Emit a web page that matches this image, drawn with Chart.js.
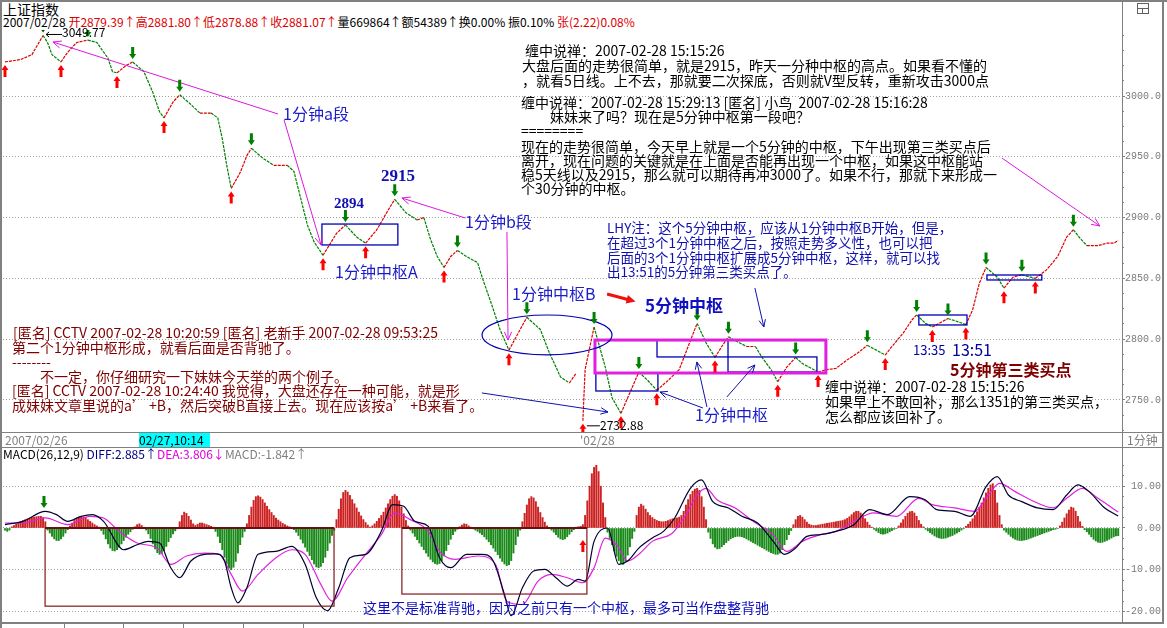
<!DOCTYPE html>
<html><head><meta charset="utf-8">
<script src="https://cdn.jsdelivr.net/npm/chart.js@4/dist/chart.umd.min.js"></script>
<style>
html,body{margin:0;padding:0;background:#fff;}
#wrap{position:relative;width:1167px;height:628px;overflow:hidden;background:#fff;font-family:'Noto Sans CJK SC',sans-serif;color:#000;}
.t{position:absolute;white-space:pre;}
.ln{position:absolute;background:#808080;}
canvas{position:absolute;}
</style></head><body><div id="wrap">
<canvas id="price" width="1161" height="402" style="left:0;top:30px"></canvas>
<canvas id="macd" width="1161" height="161" style="left:0;top:461px"></canvas>

<div class="ln" style="left:0;top:0;width:1167px;height:2px"></div>
<div class="ln" style="left:0;top:0;width:2px;height:628px"></div>
<div class="ln" style="left:1122px;top:0;width:1px;height:623px"></div>
<div class="ln" style="left:1162px;top:0;width:2px;height:624px"></div>
<div class="ln" style="left:0;top:432px;width:1164px;height:1px"></div>
<div class="ln" style="left:0;top:447px;width:1164px;height:1px"></div>
<div class="ln" style="left:0;top:622px;width:1164px;height:2px"></div>
<div class="ln" style="left:64px;top:624px;width:1px;height:4px"></div>
<div class="ln" style="left:123px;top:624px;width:1px;height:4px"></div>
<div class="ln" style="left:183px;top:624px;width:1px;height:4px"></div>
<div class="ln" style="left:243px;top:624px;width:1px;height:4px"></div>
<div class="ln" style="left:303px;top:624px;width:1px;height:4px"></div>
<div style="position:absolute;left:1137px;top:3px;width:10px;height:9px;border:1px solid #606060;"><div style="position:absolute;left:0;top:4px;width:10px;height:1px;background:#606060"></div><div style="position:absolute;left:4px;top:4px;width:1px;height:5px;background:#606060"></div></div>

<div class="t" style="left:3px;top:1px;font-size:14px;line-height:16px">上证指数</div>
<div class="t" style="left:3px;top:15px;font-size:12px;line-height:14px">2007/02/28 <span style="color:#e00000">开2879.39↑高2881.80↑低2878.88↑收2881.07↑</span>量669864↑额54389↑换0.00% 振0.10% <span style="color:#e00000">张(2.22)0.08%</span></div>

<div class="t" style="left:525px;top:43px;font-size:14px;line-height:14px">缠中说禅：2007-02-28 15:15:26</div>
<div class="t" style="left:522px;top:58px;font-size:14px;line-height:14px">大盘后面的走势很简单，就是2915，昨天一分种中枢的高点。如果看不懂的</div>
<div class="t" style="left:522px;top:73px;font-size:14px;line-height:14px">，就看5日线。上不去，那就要二次探底，否则就V型反转，重新攻击3000点</div>
<div class="t" style="left:521px;top:95px;font-size:14px;line-height:14px">缠中说禅：2007-02-28 15:29:13 [匿名] 小鸟  2007-02-28 15:16:28</div>
<div class="t" style="left:550px;top:109px;font-size:14px;line-height:14px">妹妹来了吗？现在是5分钟中枢第一段吧？</div>
<div class="t" style="left:521px;top:123px;font-size:14px;line-height:14px">========</div>
<div class="t" style="left:521px;top:139px;font-size:14px;line-height:14px">现在的走势很简单，今天早上就是一个5分钟的中枢，下午出现第三类买点后</div>
<div class="t" style="left:521px;top:153px;font-size:14px;line-height:14px">离开，现在问题的关键就是在上面是否能再出现一个中枢，如果这中枢能站</div>
<div class="t" style="left:521px;top:167px;font-size:14px;line-height:14px">稳5天线以及2915，那么就可以期待再冲3000了。如果不行，那就下来形成一</div>
<div class="t" style="left:521px;top:181px;font-size:14px;line-height:14px">个30分钟的中枢。</div>

<div class="t" style="left:13px;top:325px;font-size:14px;line-height:14px;color:#800000">[匿名] CCTV 2007-02-28 10:20:59 [匿名] 老新手 2007-02-28 09:53:25</div>
<div class="t" style="left:12px;top:340px;font-size:14px;line-height:14px;color:#800000">第二个1分钟中枢形成，就看后面是否背驰了。</div>
<div class="t" style="left:12px;top:354px;font-size:14px;line-height:14px;color:#800000">--------</div>
<div class="t" style="left:40px;top:369px;font-size:14px;line-height:14px;color:#800000">不一定，你仔细研究一下妹妹今天举的两个例子。</div>
<div class="t" style="left:12px;top:383px;font-size:14px;line-height:14px;color:#800000">[匿名] CCTV 2007-02-28 10:24:40 我觉得，大盘还存在一种可能，就是形</div>
<div class="t" style="left:12px;top:398px;font-size:14px;line-height:14px;color:#800000">成妹妹文章里说的a’ +B，然后突破B直接上去。现在应该按a’ +B来看了。</div>

<div class="t" style="left:607px;top:220px;font-size:13.5px;line-height:14px;color:#1010b0">LHY注：这个5分钟中枢，应该从1分钟中枢B开始，但是，</div>
<div class="t" style="left:607px;top:235px;font-size:13.5px;line-height:14px;color:#1010b0">在超过3个1分钟中枢之后，按照走势多义性，也可以把</div>
<div class="t" style="left:607px;top:250px;font-size:13.5px;line-height:14px;color:#1010b0">后面的3个1分钟中枢扩展成5分钟中枢，这样，就可以找</div>
<div class="t" style="left:607px;top:264px;font-size:13.5px;line-height:14px;color:#1010b0">出13:51的5分钟第三类买点了。</div>

<div class="t" style="left:825px;top:379px;font-size:14px;line-height:14px">缠中说禅：2007-02-28 15:15:26</div>
<div class="t" style="left:825px;top:394px;font-size:14px;line-height:14px">如果早上不敢回补，那么1351的第三类买点，</div>
<div class="t" style="left:825px;top:409px;font-size:14px;line-height:14px">怎么都应该回补了。</div>

<div class="t" style="left:283px;top:104px;font-size:16px;line-height:18px;color:#1c1cc8">1分钟a段</div>
<div class="t" style="left:334px;top:194px;font-size:15px;line-height:18px;color:#1010b0;font-weight:bold;font-family:'Liberation Serif',serif">2894</div>
<div class="t" style="left:381px;top:166px;font-size:17px;line-height:20px;color:#1010b0;font-weight:bold;font-family:'Liberation Serif',serif">2915</div>
<div class="t" style="left:335px;top:262px;font-size:16px;line-height:18px;color:#1c1cc8">1分钟中枢A</div>
<div class="t" style="left:465px;top:212px;font-size:16px;line-height:18px;color:#1c1cc8">1分钟b段</div>
<div class="t" style="left:512px;top:284px;font-size:16px;line-height:18px;color:#1c1cc8">1分钟中枢B</div>
<div class="t" style="left:645px;top:295px;font-size:17px;line-height:20px;color:#1010c0;font-weight:bold">5分钟中枢</div>
<div class="t" style="left:695px;top:405px;font-size:16px;line-height:18px;color:#1c1cc8">1分钟中枢</div>
<div class="t" style="left:913px;top:342px;font-size:13px;line-height:16px;color:#0000a0">13:35</div>
<div class="t" style="left:952px;top:340px;font-size:16px;line-height:18px;color:#0000a0">13:51</div>
<div class="t" style="left:950px;top:360px;font-size:16px;line-height:18px;color:#800000;font-weight:bold">5分钟第三类买点</div>
<div class="t" style="left:600px;top:418px;font-size:12px;line-height:14px">2732.88</div>
<div class="t" style="left:62px;top:25px;font-size:12px;line-height:14px">3049.77</div>

<div class="t" style="left:5px;top:433px;font-size:12px;line-height:14px;color:#808080">2007/02/26</div>
<div class="t" style="left:139px;top:433px;width:71px;height:14px;background:#00ffff;font-size:12px;line-height:14px">02/27,10:14</div>
<div class="t" style="left:580px;top:433px;font-size:12px;line-height:14px;color:#808080">'02/28</div>
<div class="t" style="left:1127px;top:433px;font-size:12px;line-height:14px;color:#808080">1分钟</div>

<div class="t" style="left:3px;top:447px;font-size:12px;line-height:14px">MACD(26,12,9) <span style="color:#000080">DIFF:2.885↑</span><span style="color:#e000e0">DEA:3.806↓</span><span style="color:#808080">MACD:-1.842↑</span></div>
<div class="t" style="left:363px;top:598px;font-size:14px;line-height:18px;color:#1010c0">这里不是标准背驰，因为之前只有一个中枢，最多可当作盘整背驰</div>
</div>
<script>
// ---------------- data (x = minute index of the 1-minute chart) ----------------
const priceMinutes = [0,7,12,17,19,21,25,28,32,37,41,46,48,50,54,57,62,66,69,71,75,78,83,87,92,95,97,99,101,105,108,110,115,120,126,129,132,135,138,142,148,152,157,161,166,171,174,179,184,187,190,193,196,199,202,206,211,213,217,221,225,230,233,239,243,248,252,255,257,258,259,263,268,271,275,279,283,287,291,296,301,305,309,313,317,320,323,327,331,335,338,342,345,349,353,356,361,363,367,371,376,381,385,389,393,396,401,405,407,411,414,417,421,426,429,432,435,438,443,446,450,454,458,460,465,470,474,477,480,483,488,492,495,497];
const priceValues = [3028,3030,3034,3049.77,3044,3034,3028,3036,3044,3046,3044,3031,3020,3019,3025,3028,3020,3003,2987,2982,2995,3001,2993,2986,2986,2982,2965,2943,2924,2937,2951,2957,2949,2943,2943,2938,2916,2894,2880,2869,2887,2894,2884,2879,2890,2906,2915,2904,2898,2900,2882,2868,2859,2868,2873,2868,2863,2851,2830,2808,2791,2808,2818,2808,2789,2769,2764,2772,null,2732.88,2775,2810,2777,2752,2739,2756,2773,2766,2758,2766,2775,2794,2813,2797,2785,2794,2802,2798,2794,2794,2785,2775,2765,2777,2785,2780,2775,2773,2775,2776,2783,2789,2795,2791,2787,2794,2805,2816,2820,2813,2810,2813,2817,2814,2812,2824,2846,2859,2851,2842,2851,2853,2851,2850,2857,2868,2884,2890,2883,2877,2877,2879,2879,2881.07];
const peakMinutes = [17,37,57,78,110,152,174,202,233,263,283,309,323,353,385,407,421,438,454,477];
const lowMinutes = [0,25,50,71,101,142,161,196,225,258,275,291,317,345,363,393,414,429,446,460];
const priceTickLabels = [2750,2800,2850,2900,2950,3000];

const diffMinutes = [0,8,18,23,28,34,39,44,53,59,64,69,74,78,83,89,94,98,101,104,108,113,121,128,134,139,144,149,154,161,168,173,178,183,189,194,199,206,213,218,223,226,231,236,241,246,251,256,259,263,269,274,278,283,289,294,299,306,311,316,323,329,336,343,348,353,358,364,371,379,386,394,404,411,416,424,431,438,443,448,454,461,468,474,479,484,491,497];
const diffValues = [0.8,1.6,4.0,3.2,1.6,2.8,3.2,1.6,-5.2,-4.0,-3.2,-3.6,-9.5,-11.9,-7.9,-6.3,-6.2,-7.9,-14.3,-17.9,-14.3,-6.3,-5.6,-4.4,-8.7,-16.7,-19.8,-14.3,-7.1,-6.3,-0.8,5.6,5.2,1.6,0.4,-7.1,-9.5,-6.3,-6.3,-7.9,-15.9,-21.0,-14.3,-10.3,-9.9,-11.9,-13.9,-12.3,-12.7,-3.2,0.0,-8.7,-7.9,-4.8,-2.4,-0.8,2.4,9.5,11.5,6.3,4.8,2.8,1.2,-3.2,-6.3,-4.8,-2.0,-1.6,-0.8,0.8,4.4,3.2,7.5,6.7,4.4,4.0,2.8,9.9,12.3,7.9,6.3,4.8,4.4,7.9,10.3,8.7,4.8,2.885];
const deaMinutes = [0,8,18,28,38,44,51,59,68,74,81,89,96,101,106,113,121,128,134,141,146,153,161,168,174,181,189,194,201,211,219,224,231,238,244,251,258,263,268,273,278,283,289,298,304,309,313,318,326,334,343,349,356,364,371,379,388,398,408,414,424,433,439,444,451,458,468,474,481,488,497];
const deaValues = [1.2,1.2,2.4,0.8,2.8,2.4,-0.8,-3.6,-4.8,-8.7,-6.7,-6.0,-6.3,-11.1,-15.1,-11.1,-7.1,-5.2,-6.3,-13.5,-17.5,-11.9,-6.3,-1.6,3.6,2.0,-0.8,-5.6,-7.5,-6.7,-8.7,-17.5,-18.3,-12.7,-11.1,-11.9,-13.1,-9.5,-2.4,-4.0,-7.9,-6.3,-3.2,-1.2,3.2,7.9,9.5,6.7,4.8,1.6,-1.6,-5.6,-3.2,-1.6,-0.8,1.6,3.6,2.8,7.1,5.6,4.8,4.0,7.9,10.7,8.7,6.7,4.8,7.1,9.5,7.1,3.806];
const histStarts = [0,3,19,29,43,58,63,78,94,108,129,148,181,203,209,231,244,255,269,282,314,352,388,399,411,429,446,471,482];
const histValues = [
 [-0.5,-0.8,-0.5],
 [0.3,0.6,0.9,1.2,1.5,1.8,2.0,2.2,2.4,2.5,2.6,2.7,2.8,2.8,2.5,1.5],
 [-0.5,-1.2,-2.0,-2.6,-3.0,-3.0,-2.6,-2.0,-1.2,-0.4],
 [0.5,1.2,1.8,2.3,2.6,2.7,2.6,2.4,2.0,1.6,1.2,0.8,0.5,0.2],
 [-0.6,-1.5,-2.6,-3.8,-4.8,-5.4,-5.5,-5.2,-4.6,-3.8,-3.0,-2.2,-1.5,-0.9,-0.3],
 [0.3,0.8,1.0,0.6,0.2],
 [-0.5,-1.4,-2.5,-3.8,-5.0,-5.9,-6.3,-6.1,-5.4,-4.4,-3.3,-2.3,-1.4,-0.7,-0.2],
 [1.5,3.0,3.8,3.5,2.8,1.9,1.0,0.6,0.9,1.2,1.2,1.0,0.8,0.6,0.4,0.2],
 [-0.8,-2.0,-3.5,-5.2,-7.0,-8.6,-9.6,-10.0,-9.4,-8.0,-6.0,-4.0,-2.2,-0.8],
 [1.0,3.0,5.0,6.6,7.5,7.7,7.4,6.8,6.0,5.2,4.4,3.7,3.0,2.4,1.9,1.5,1.1,0.8,0.5,0.3,0.1],
 [-0.4,-1.0,-1.8,-2.7,-3.6,-4.6,-5.6,-6.6,-7.6,-8.6,-9.3,-9.5,-9.2,-8.3,-7.0,-5.4,-3.6,-1.8,-0.5],
 [2.0,4.5,7.0,8.5,9.0,8.6,7.8,6.8,5.8,4.8,3.8,2.9,2.0,1.3,0.7,0.2,0.5,1.0,1.6,2.3,3.0,3.8,4.8,5.8,6.8,7.6,8.0,7.6,6.5,5.0,3.4,1.8,0.5],
 [-0.5,-1.2,-2.0,-2.8,-3.6,-4.4,-5.2,-6.0,-6.8,-7.5,-8.1,-8.5,-8.7,-8.5,-7.8,-6.7,-5.4,-4.0,-2.7,-1.6,-0.8,-0.3],
 [0.3,0.7,1.0,0.9,0.5,0.2],
 [-0.2,-0.5,-0.8,-1.2,-1.6,-2.1,-2.7,-3.3,-4.0,-4.8,-5.6,-6.4,-7.2,-8.0,-8.6,-9.0,-8.8,-7.8,-6.0,-4.0,-2.0,-0.5],
 [1.5,3.5,5.5,7.0,7.5,7.2,6.3,5.0,3.7,2.5,1.4,0.5],
 [-0.5,-1.0,-1.6,-2.2,-2.6,-2.8,-2.6,-2.1,-1.5,-0.9,-0.4],
 [0.2,0.3,0.4,0.8,3.0,6.5,10.0,13.0,14.5,15.0,13.5,10.0,6.0,2.5],
 [-1.0,-2.5,-4.0,-5.5,-6.8,-7.8,-8.5,-8.7,-8.0,-6.5,-4.5,-2.5,-0.8],
 [3.0,5.0,5.7,5.3,4.5,3.7,3.0,2.5,2.1,1.8,1.6,1.5,1.5,1.6,1.8,2.0,2.2,2.3,2.4,2.6,3.0,4.0,5.5,6.8,8.0,8.8,9.3,9.5,9.0,7.5,5.0,2.0],
 [-1.0,-2.5,-3.8,-4.6,-5.0,-4.9,-4.5,-4.0,-3.5,-3.0,-2.6,-2.3,-2.1,-2.0,-2.0,-2.1,-2.3,-2.6,-2.9,-3.2,-3.5,-3.8,-4.1,-4.4,-4.7,-5.0,-5.3,-5.6,-5.9,-6.1,-6.3,-6.3,-6.0,-5.2,-4.0,-2.8,-1.6,-0.6],
 [0.8,2.0,2.8,3.0,2.6,2.0,1.4,0.9,0.7,0.6,0.6,0.7,0.8,0.9,1.0,1.1,1.2,1.3,1.4,1.5,1.6,1.7,1.8,2.0,2.3,2.7,3.2,3.7,4.0,4.0,3.6,3.0,2.2,1.4,0.7,0.2],
 [-0.3,-0.7,-1.1,-1.4,-1.5,-1.4,-1.2,-0.9,-0.6,-0.3,-0.1],
 [0.5,1.2,2.0,2.8,3.5,3.9,4.0,3.6,2.8,1.8,0.9,0.3],
 [-0.3,-0.7,-1.1,-1.5,-1.9,-2.2,-2.4,-2.5,-2.5,-2.4,-2.2,-2.0,-1.8,-1.5,-1.2,-0.9,-0.5,-0.2],
 [0.4,0.9,1.5,2.2,3.0,3.9,4.9,6.0,7.2,8.4,9.5,10.3,10.6,9.0,6.0,3.0,0.8],
 [-0.5,-1.0,-1.5,-2.0,-2.4,-2.7,-2.9,-3.0,-3.0,-2.9,-2.8,-2.6,-2.4,-2.2,-2.0,-1.8,-1.6,-1.4,-1.2,-1.0,-0.8,-0.6,-0.4,-0.3,-0.1],
 [0.5,1.4,2.4,3.4,4.3,5.0,4.8,4.0,2.8,1.5,0.4],
 [-0.4,-0.9,-1.5,-2.1,-2.7,-3.1,-3.4,-3.5,-3.4,-3.2,-3.0,-2.7,-2.4,-2.1,-1.9,-1.842]
];
const macdTickLabels = [-20,-10,0,10];

// ---------------- annotation geometry (data coordinates: minute, value) ----------------
const centerBoxes = [[141.5,175.4,2894.7,2877.5],[263.8,291.5,2772.2,2757.4],[291.1,322.8,2799.3,2785.4],[322.8,362.5,2785.4,2773.0],[408.0,429.5,2819.9,2811.7],[438.4,462.9,2852.8,2848.7]];
const fiveMinBox = [263.4,366.5,2799.3,2772.2];
const ellipseB = [242,2803.5,29,16.4];
const pinkArrows = [[121.9,2985.2,21.4,3044.4],[124.6,2980.3,141.1,2877.5],[205.4,2899.7,177.2,2916.1],[224.1,2888.2,224.6,2799.3],[445.1,2949.0,488.8,2893.1]];
const blueArrows = [[311.6,2743.4,292.4,2756.6],[313.4,2744.2,308.9,2781.3],[322.3,2752.5,334.8,2778.8],[334.8,2842.1,338.8,2810.0],[212.9,2755.8,269.2,2740.1]];
const redArrow = [268.8,2837.2,281.5,2831.0];
const macdRects = [[17.9,146.9,0,-18.7],[177.2,259.8,0,-15.8]];
const macdMarks = [[17.4,4.8,'down'],[258,-2.9,'up']];

const X_MIN = -0.89, X_MAX = 498.7;
const RED='#e00000', GREEN='#008000';

function openHead(ctx,x1,y1,x2,y2,len,ang){
  const a=Math.atan2(y2-y1,x2-x1);
  ctx.beginPath();
  ctx.moveTo(x2-len*Math.cos(a-ang),y2-len*Math.sin(a-ang));
  ctx.lineTo(x2,y2);
  ctx.lineTo(x2-len*Math.cos(a+ang),y2-len*Math.sin(a+ang));
  ctx.stroke();
}
function lineArrow(ctx,a,b,color,w,len){
  ctx.save();ctx.strokeStyle=color;ctx.lineWidth=w;
  ctx.beginPath();ctx.moveTo(a[0],a[1]);ctx.lineTo(b[0],b[1]);ctx.stroke();
  openHead(ctx,a[0],a[1],b[0],b[1],len,0.42);
  ctx.restore();
}
function blockArrow(ctx,x,tip,dir,color){ // dir 1 = pointing down
  ctx.save();ctx.fillStyle=color;ctx.beginPath();
  ctx.moveTo(x,tip);ctx.lineTo(x+3.5,tip-dir*5);ctx.lineTo(x+1.5,tip-dir*5);ctx.lineTo(x+1.5,tip-dir*12);
  ctx.lineTo(x-1.5,tip-dir*12);ctx.lineTo(x-1.5,tip-dir*5);ctx.lineTo(x-3.5,tip-dir*5);ctx.closePath();ctx.fill();ctx.restore();
}
function priceAt(m){ const i=priceMinutes.indexOf(m); return priceValues[i]; }

const priceAnno = {
  id:'priceAnno',
  afterDatasetsDraw(chart){
    const ctx=chart.ctx, xs=chart.scales.x, ys=chart.scales.y;
    const P=(m,v)=>[xs.getPixelForValue(m), ys.getPixelForValue(v)];
    ctx.save();
    ctx.strokeStyle='#0000b4';ctx.lineWidth=1.3;
    centerBoxes.forEach(b=>{const a=P(b[0],b[2]),c=P(b[1],b[3]);ctx.strokeRect(a[0],a[1],c[0]-a[0],c[1]-a[1]);});
    ctx.strokeStyle='#e020e0';ctx.lineWidth=3;
    {const a=P(fiveMinBox[0],fiveMinBox[2]),c=P(fiveMinBox[1],fiveMinBox[3]);ctx.strokeRect(a[0],a[1],c[0]-a[0],c[1]-a[1]);}
    {const c=P(ellipseB[0],ellipseB[1]);const rx=xs.getPixelForValue(ellipseB[0]+ellipseB[2])-c[0];const ry=ys.getPixelForValue(ellipseB[1]-ellipseB[3])-c[1];
     ctx.strokeStyle='#0000b4';ctx.lineWidth=1.2;ctx.beginPath();ctx.ellipse(c[0],c[1],rx,ry,0,0,Math.PI*2);ctx.stroke();}
    pinkArrows.forEach(a=>lineArrow(ctx,P(a[0],a[1]),P(a[2],a[3]),'#dc18dc',1,9));
    blueArrows.forEach(a=>lineArrow(ctx,P(a[0],a[1]),P(a[2],a[3]),'#1010b0',1,8));
    {const a=P(redArrow[0],redArrow[1]),b=P(redArrow[2],redArrow[3]);
     const ang=Math.atan2(b[1]-a[1],b[0]-a[0]);
     ctx.strokeStyle='#f01010';ctx.fillStyle='#f01010';ctx.lineWidth=3;
     ctx.beginPath();ctx.moveTo(a[0],a[1]);ctx.lineTo(b[0]-7*Math.cos(ang),b[1]-7*Math.sin(ang));ctx.stroke();
     ctx.beginPath();ctx.moveTo(b[0],b[1]);
     ctx.lineTo(b[0]-10*Math.cos(ang-0.45),b[1]-10*Math.sin(ang-0.45));
     ctx.lineTo(b[0]-10*Math.cos(ang+0.45),b[1]-10*Math.sin(ang+0.45));ctx.closePath();ctx.fill();}
    ctx.strokeStyle='#000';ctx.lineWidth=1;
    {const p=P(17,priceAt(17));ctx.beginPath();ctx.moveTo(p[0]+3,p[1]-1);ctx.lineTo(p[0]+19,p[1]-1);ctx.stroke();openHead(ctx,p[0]+12,p[1]-1,p[0]+3,p[1]-1,4,0.7);}
    {const p=P(258,priceAt(258));ctx.beginPath();ctx.moveTo(p[0]+4,p[1]+5);ctx.lineTo(p[0]+17,p[1]+5);ctx.stroke();}
    peakMinutes.forEach((m,i)=>{const p=P(m,priceAt(m));blockArrow(ctx,p[0],p[1]-3,1,i===0?'#004c00':'#008000');});
    lowMinutes.forEach(m=>{const p=P(m,priceAt(m));blockArrow(ctx,p[0],p[1]+3,-1,'#ff0000');});
    ctx.restore();
  }
};

const macdAnno = {
  id:'macdAnno',
  afterDatasetsDraw(chart){
    const ctx=chart.ctx, xs=chart.scales.x, ys=chart.scales.y;
    const P=(m,v)=>[xs.getPixelForValue(m), ys.getPixelForValue(v)];
    ctx.save();
    macdRects.forEach(r=>{const a=P(r[0],r[2]),c=P(r[1],r[3]);
      ctx.strokeStyle='#801818';ctx.lineWidth=1.2;ctx.strokeRect(a[0],a[1],c[0]-a[0],c[1]-a[1]);
      ctx.lineWidth=2.2;ctx.strokeStyle='#6a1010';ctx.beginPath();ctx.moveTo(a[0],a[1]);ctx.lineTo(c[0],a[1]);ctx.stroke();});
    macdMarks.forEach(k=>{const p=P(k[0],k[1]);
      if(k[2]==='down') blockArrow(ctx,p[0],p[1],1,'#008000'); else blockArrow(ctx,p[0],p[1],-1,'#ff0000');});
    ctx.restore();
  }
};

function yAxis(min,max,step,majors,digits){
  const isMajor=v=>majors.some(m=>Math.abs(m-v)<1e-6);
  return {
    position:'right', min:min, max:max,
    afterFit(s){ s.width=39; s.paddingTop=0; s.paddingBottom=0; },
    afterBuildTicks(s){ const t=[]; const start=Math.ceil(min/step)*step; for(let v=start; v<=max; v+=step){ t.push({value:Math.round(v*1000)/1000}); } s.ticks=t; },
    ticks:{ autoSkip:false, crossAlign:'far', padding:0, color:'#7a7a7a', font:{family:'Liberation Mono', size:10}, callback:(v)=> isMajor(v)? v.toFixed(digits):'' },
    grid:{ color:c=> isMajor(c.tick.value)?'#a0a0a0':'rgba(0,0,0,0)', lineWidth:1, drawTicks:true, tickLength:3, tickColor:'#808080',
           tickBorderDash:c=> isMajor(c.tick.value)?[]:[1,12], tickBorderDashOffset:c=> isMajor(c.tick.value)?0:-1 },
    border:{ display:false, dash:[1,2] }
  };
}

const priceData = priceMinutes.map((m,i)=>({x:m,y:priceValues[i]}));
new Chart(document.getElementById('price'),{
  type:'line',
  data:{datasets:[{data:priceData, borderWidth:1.2, pointRadius:0, tension:0, borderDash:[3,1], spanGaps:false,
    segment:{borderColor:c=> c.p1.parsed.y>=c.p0.parsed.y?RED:GREEN}}]},
  options:{responsive:false, animation:false, devicePixelRatio:1,
    layout:{padding:{left:3,right:0,top:0,bottom:0}},
    plugins:{legend:{display:false},tooltip:{enabled:false}},
    scales:{ x:{type:'linear',min:X_MIN,max:X_MAX,display:false},
             y:yAxis(2723.68,3054.28,12.5,priceTickLabels,1) } },
  plugins:[priceAnno]
});

const histData=[]; histStarts.forEach((s,i)=>histValues[i].forEach((v,j)=>histData.push({x:s+j,y:v})));
new Chart(document.getElementById('macd'),{
  type:'bar',
  data:{datasets:[
    {type:'bar', data:histData, barThickness:1.3, order:3, backgroundColor:c=> (c.raw&&c.raw.y>=0)?'#cc2222':'#1a8a1a'},
    {type:'line', data:deaMinutes.map((m,i)=>({x:m,y:deaValues[i]})), borderColor:'#e020e0', borderWidth:1.2, pointRadius:0, cubicInterpolationMode:'monotone', order:2},
    {type:'line', data:diffMinutes.map((m,i)=>({x:m,y:diffValues[i]})), borderColor:'#000030', borderWidth:1.2, pointRadius:0, cubicInterpolationMode:'monotone', order:1}
  ]},
  options:{responsive:false, animation:false, devicePixelRatio:1,
    layout:{padding:{left:3,right:0,top:0,bottom:0}},
    plugins:{legend:{display:false},tooltip:{enabled:false}},
    scales:{ x:{type:'linear',min:X_MIN,max:X_MAX,display:false,offset:false},
             y:yAxis(-22.49,16.03,2.5,macdTickLabels,2) } },
  plugins:[macdAnno]
});
</script>
</body></html>
